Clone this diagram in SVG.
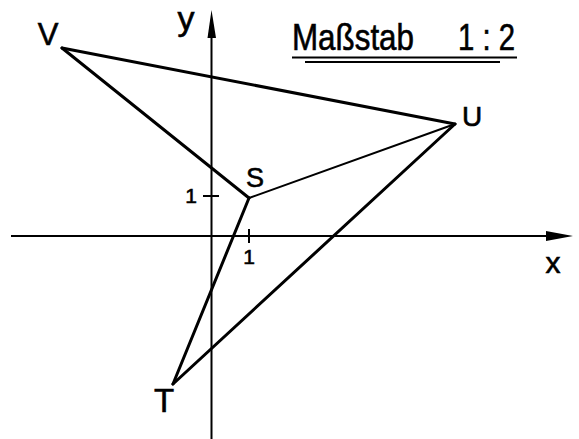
<svg xmlns="http://www.w3.org/2000/svg" width="579" height="439" viewBox="0 0 579 439">
<style>
.lbl{font-family:"Liberation Sans","DejaVu Sans",sans-serif;fill:#000;stroke:#000;stroke-width:0.6}
.ax{stroke:#000;stroke-width:2;fill:none}
.edge{stroke:#000;stroke-width:3;fill:none;stroke-linecap:round}
.thin{stroke:#000;stroke-width:2;fill:none;stroke-linecap:round}
</style>
<rect width="579" height="439" fill="#fff"/>
<g id="axes">
<line class="ax" x1="11" y1="236" x2="552" y2="236"/>
<polygon points="546,231 573,236 546,241" fill="#000"/>
<line class="ax" x1="211.5" y1="439" x2="211.5" y2="32"/>
<polygon points="207.5,38 211.5,10 216,38" fill="#000"/>
<line class="ax" x1="203" y1="196" x2="219" y2="196"/>
<line class="ax" x1="249" y1="229" x2="249" y2="243"/>
<text class="lbl" x="191" y="203" font-size="21" text-anchor="middle">1</text>
<text class="lbl" x="249" y="264" font-size="21" text-anchor="middle">1</text>
<text class="lbl" x="553" y="273" font-size="30" text-anchor="middle">x</text>
<text class="lbl" x="186" y="30" font-size="34" text-anchor="middle">y</text>
</g>
<g id="title">
<text class="lbl" x="292" y="50" font-size="36" textLength="122" lengthAdjust="spacingAndGlyphs">Maßstab</text>
<text class="lbl" x="458" y="50" font-size="36" textLength="57" lengthAdjust="spacingAndGlyphs">1 : 2</text>
<line class="ax" x1="292" y1="57.5" x2="517" y2="57.5"/>
<line class="ax" x1="305" y1="62" x2="500" y2="62"/>
</g>
<g id="connectors">
<line class="edge" x1="62" y1="48" x2="455" y2="124"/>
<line class="edge" x1="62" y1="48" x2="249" y2="198"/>
<line class="thin" x1="249" y1="198" x2="455" y2="124"/>
<line class="edge" x1="249" y1="198" x2="173" y2="384"/>
<line class="edge" x1="173" y1="384" x2="455" y2="124"/>
</g>
<g id="node-V"><text class="lbl" x="48" y="45" font-size="31" text-anchor="middle">V</text></g>
<g id="node-S"><text class="lbl" x="255" y="187" font-size="27" text-anchor="middle">S</text></g>
<g id="node-U"><text class="lbl" x="472" y="126" font-size="28" text-anchor="middle">U</text></g>
<g id="node-T"><text class="lbl" x="164" y="412" font-size="33" text-anchor="middle">T</text></g>
</svg>
